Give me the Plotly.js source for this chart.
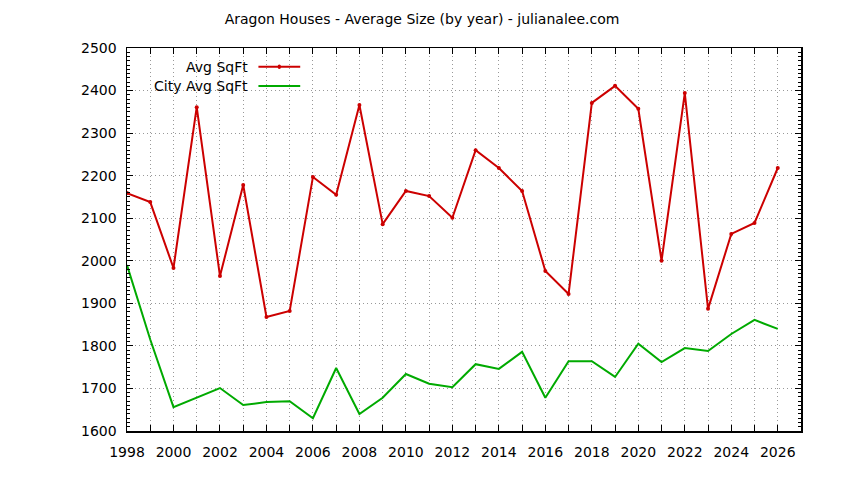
<!DOCTYPE html>
<html>
<head>
<meta charset="utf-8">
<script src="https://cdn.plot.ly/plotly-3.0.1.min.js"></script>
<style>
  body { margin: 0; background: #fff; }
  #graphDiv { width: 844px; height: 480px; }
</style>
</head>
<body>
<div id="graphDiv"></div>
<script>
// html tag
const graphDiv = document.getElementById('graphDiv');

// data *********************************************
const years = [1998, 1999, 2000, 2001, 2002, 2003, 2004, 2005, 2006, 2007,
               2008, 2009, 2010, 2011, 2012, 2013, 2014, 2015, 2016, 2017,
               2018, 2019, 2020, 2021, 2022, 2023, 2024, 2025, 2026];

const avgSqFt = [2159, 2138, 1983, 2361, 1964, 2178, 1868, 1882, 2197, 2155,
                 2366, 2086, 2164, 2152, 2101, 2260, 2218, 2164, 1976, 1922,
                 2371, 2411, 2357, 2000, 2394, 1887, 2063, 2089, 2218];

const cityAvgSqFt = [1990, 1815, 1656, 1678, 1701, 1661, 1668, 1670, 1630, 1748,
                     1640, 1678, 1734, 1711, 1703, 1757, 1746, 1786, 1678, 1764,
                     1764, 1727, 1805, 1762, 1795, 1788, 1828, 1861, 1840];

const tickYears = [];
const tickLabels = [];
for (var y = 1998; y <= 2027; y++) {
  tickYears.push(y);
  tickLabels.push(y % 2 === 0 && y < 2027 ? String(y) : '');
}

const seriesNames = ['Avg SqFt', 'City Avg SqFt'];
const redColor = '#cc0000';
const greenColor = '#00aa00';

// legend, gnuplot style (text left, sample right) *****
const legendY = [0.951, 0.901];
const annotations = seriesNames.map(function (name, i) {
  return {
    text: name, xref: 'paper', yref: 'paper',
    x: 0.183, y: legendY[i], xanchor: 'right', yanchor: 'middle',
    showarrow: false, font: { family: 'DejaVu Sans', size: 14, color: '#000' }
  };
});
const shapes = [
  { type: 'line', xref: 'paper', yref: 'paper', x0: 0.195, x1: 0.257, y0: legendY[0], y1: legendY[0],
    line: { color: redColor, width: 2 } },
  { type: 'circle', xref: 'paper', yref: 'paper', x0: 0.2235, x1: 0.2285, y0: legendY[0] - 0.006, y1: legendY[0] + 0.006,
    fillcolor: redColor, line: { color: redColor, width: 0 } },
  { type: 'line', xref: 'paper', yref: 'paper', x0: 0.195, x1: 0.257, y0: legendY[1], y1: legendY[1],
    line: { color: greenColor, width: 2 } }
];

Plotly.newPlot(
  graphDiv,
  [
  {
    name: seriesNames[0],
    x: years,
    y: avgSqFt,
    mode: 'lines+markers',
    line: { color: redColor, width: 2 },
    marker: { color: redColor, size: 4 },
    showlegend: false
  },
  {
    name: seriesNames[1],
    x: years,
    y: cityAvgSqFt,
    mode: 'lines',
    line: { color: greenColor, width: 2 },
    showlegend: false
  }
  ],
  {
    width: 844,
    height: 480,
    margin: { l: 127, r: 43, t: 48, b: 49 },
    paper_bgcolor: '#fff',
    plot_bgcolor: '#fff',
    font: { family: 'DejaVu Sans', size: 14, color: '#000' },
    title: {
      text: 'Aragon Houses - Average Size (by year) - julianalee.com',
      font: { family: 'DejaVu Sans', size: 14, color: '#000' },
      x: 0.5, xanchor: 'center', y: 0.96, yanchor: 'middle'
    },
    xaxis: {
      range: [1998, 2027],
      tickmode: 'array',
      tickvals: tickYears,
      ticktext: tickLabels,
      ticks: 'inside',
      ticklen: 6,
      tickcolor: '#000',
      ticklabelstandoff: 8,
      showline: true,
      linecolor: '#000',
      linewidth: 1.5,
      mirror: 'ticks',
      showgrid: true,
      gridcolor: '#999999',
      griddash: '1px,3px',
      gridwidth: 1,
      zeroline: false,
      tickfont: { family: 'DejaVu Sans', size: 14 }
    },
    yaxis: {
      range: [1600, 2500],
      tick0: 1600,
      dtick: 100,
      ticks: 'inside',
      ticklen: 6,
      tickcolor: '#000',
      ticklabelstandoff: 6,
      showline: true,
      linecolor: '#000',
      linewidth: 1.5,
      mirror: 'ticks',
      showgrid: true,
      gridcolor: '#999999',
      griddash: '1px,3px',
      gridwidth: 1,
      zeroline: false,
      tickfont: { family: 'DejaVu Sans', size: 14 },
      minor: { dtick: 10, ticks: 'inside', ticklen: 3, tickcolor: '#000', showgrid: false }
    },
    annotations: annotations,
    shapes: shapes
  },
  { displayModeBar: false, staticPlot: true }
);
</script>
</body>
</html>
